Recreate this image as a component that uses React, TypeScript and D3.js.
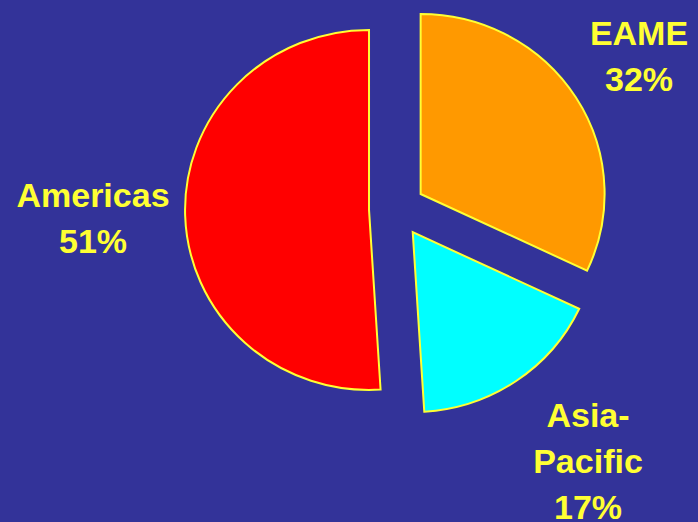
import React from "react";
import * as d3 from "d3";

const regions = ["EAME", "Asia-Pacific", "Americas"];
const shares = [32, 17, 51];
const colors = ["#FF9900", "#00FFFF", "#FF0000"];
const labelLines = [["EAME", "32%"], ["Asia-", "Pacific", "17%"], ["Americas", "51%"]];
const labelPos: [number, number][] = [[639, 45], [588, 427], [93, 207]];

const W = 698;
const H = 522;
const cx = 397;
const cy = 209;
const R = 180;
const xStretch = 1.022;
const explode = 28;

export default function App() {
  const data = regions.map((r, i) => ({ region: r, value: shares[i], color: colors[i], lines: labelLines[i], pos: labelPos[i] }));
  const pie = d3.pie<any>().value((d: any) => d.value).sort(null).startAngle(0).endAngle(2 * Math.PI);
  const arcs = pie(data);
  const arcGen = d3.arc<any>().innerRadius(0).outerRadius(R);
  return (
    <svg width={W} height={H} style={{ position: "absolute", left: 0, top: 0, display: "block" }}>
      <rect x={0} y={0} width={W} height={H} fill="#333399" />
      <g transform={`translate(${cx},${cy})`}>
        {arcs.map((a, i) => {
          const mid = (a.startAngle + a.endAngle) / 2;
          const dx = explode * Math.sin(mid);
          const dy = -explode * Math.cos(mid);
          return (
            <g key={i} transform={`translate(${dx},${dy}) scale(${xStretch},1)`}>
              <path
                d={arcGen(a) as string}
                fill={a.data.color}
                stroke="#FFFF33"
                strokeWidth={2}
                strokeLinejoin="miter"
                vectorEffect="non-scaling-stroke"
              />
            </g>
          );
        })}
      </g>
      {data.map((d, i) => (
        <text
          key={i}
          x={d.pos[0]}
          y={d.pos[1]}
          textAnchor="middle"
          fill="#FFFF33"
          fontFamily="'Liberation Sans', Arial, sans-serif"
          fontWeight="bold"
          fontSize={34}
        >
          {d.lines.map((l, j) => (
            <tspan key={j} x={d.pos[0]} dy={j === 0 ? 0 : 46}>
              {l}
            </tspan>
          ))}
        </text>
      ))}
    </svg>
  );
}
